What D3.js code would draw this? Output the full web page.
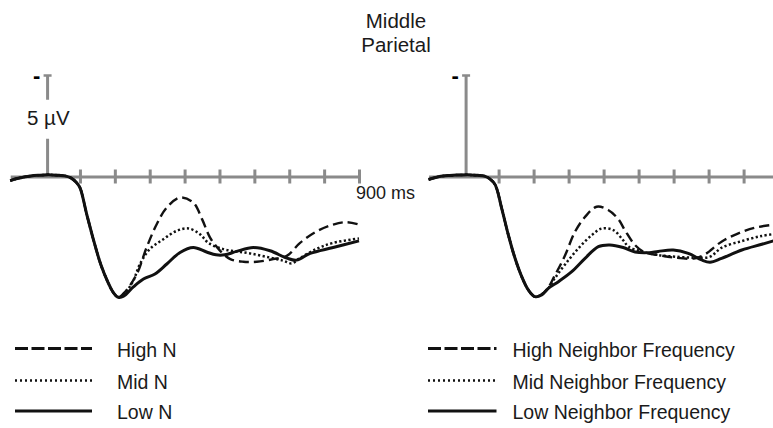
<!DOCTYPE html>
<html>
<head>
<meta charset="utf-8">
<script src="https://cdn.jsdelivr.net/npm/d3@7"></script>
<style>
  body { margin: 0; background: #ffffff; }
  svg { display: block; }
  text { font-family: "Liberation Sans", Arial, Helvetica, sans-serif; fill: #1a1a1a; }
</style>
</head>
<body>
<svg id="chart" width="773" height="428"></svg>
<script>
// ---- Data: grand-average ERP waveforms (time in ms, amplitude in µV, negative plotted up) ----

const titleLines = ["Middle", "Parietal"];
const timeTicks = [100, 200, 300, 400, 500, 600, 700, 800, 900];
const timeLabel = "900 ms";
const scaleLabel = "5 µV";

// Neighborhood size panel
const leftBaseline = [[-100, 0.2], [-80, 0.1], [-60, 0.02], [-40, -0.03], [-20, -0.06], [0, -0.08], [20, -0.08],
  [40, -0.06], [60, -0.02], [75, 0.08], [90, 0.3], [100, 0.55], [120, 1.9], [140, 3.2], [160, 4.35],
  [180, 5.2], [195, 5.7], [210, 5.95]];
const leftHighN = [[229, 5.69], [263, 4.8], [291, 3.5], [320, 2.35], [349, 1.53], [387, 1.04], [425, 1.29],
  [450, 2.1], [473, 3.01], [502, 3.66], [531, 4.07], [568, 4.2], [607, 4.2], [654, 4.07], [693, 3.91],
  [731, 3.27], [779, 2.7], [826, 2.37], [865, 2.25], [900, 2.37]];
const leftMidN = [[234, 5.62], [253, 5.13], [272, 4.31], [300, 3.58], [339, 3.09], [377, 2.68], [411, 2.56],
  [444, 2.84], [468, 3.27], [511, 3.58], [549, 3.69], [588, 3.79], [636, 3.96], [683, 4.15], [707, 4.28],
  [731, 4.02], [779, 3.56], [826, 3.27], [900, 3.05]];
const leftLowN = [[225, 5.9], [253, 5.44], [282, 5.05], [315, 4.8], [349, 4.31], [387, 3.74], [425, 3.5],
  [463, 3.72], [490, 3.86], [515, 3.86], [549, 3.69], [597, 3.5], [645, 3.66], [693, 4.02], [721, 4.12],
  [760, 3.79], [826, 3.5], [900, 3.17]];
const leftLabels = ["High N", "Mid N", "Low N"];

// Neighbor frequency panel
const rightBaseline = [[-100, 0.15], [-80, 0.05], [-60, -0.02], [-40, -0.05], [-20, -0.07], [0, -0.08], [20, -0.08],
  [40, -0.06], [60, -0.02], [75, 0.12], [90, 0.4], [109, 1.58], [128, 2.89], [147, 4.03], [166, 4.93],
  [185, 5.59], [204, 5.92]];
const rightHighNF = [[233, 5.67], [261, 4.86], [290, 3.88], [318, 2.73], [347, 1.99], [380, 1.49], [413, 1.65],
  [442, 2.1], [461, 2.65], [490, 3.38], [518, 3.74], [556, 3.87], [604, 4.0], [661, 4.03], [690, 3.83],
  [737, 3.21], [785, 2.8], [833, 2.52], [880, 2.39], [900, 2.36]];
const rightMidNF = [[237, 5.6], [261, 5.0], [290, 4.33], [328, 3.54], [366, 2.89], [395, 2.56], [428, 2.64],
  [456, 3.14], [471, 3.45], [509, 3.7], [556, 3.87], [604, 3.95], [661, 4.0], [704, 3.95], [737, 3.51],
  [795, 3.18], [852, 2.93], [900, 2.8]];
const rightLowNF = [[223, 5.84], [242, 5.51], [271, 5.18], [309, 4.69], [347, 4.03], [385, 3.45], [418, 3.37],
  [456, 3.5], [490, 3.72], [530, 3.75], [556, 3.69], [599, 3.62], [642, 3.79], [680, 4.11], [704, 4.22],
  [737, 4.03], [795, 3.62], [852, 3.34], [900, 3.1]];
const rightLabels = ["High Neighbor Frequency", "Mid Neighbor Frequency", "Low Neighbor Frequency"];

// ---- Drawing ----
const svg = d3.select("#chart");
const axisGray = "#8a8a8a";
const ink = "#111111";

// line styles shared by waveforms and legend keys: high = dashed, mid = dotted, low = solid
const waveStyles = [
  { width: 2.4, dash: "10,5" },
  { width: 2.5, dash: "2.2,2.4" },
  { width: 3.0, dash: null }
];
const keyStyles = [
  { width: 2.8, dash: "13,3.5" },
  { width: 2.3, dash: "2,3" },
  { width: 3.2, dash: null }
];

// amplitude scale: negative voltages up, positive down
const y = d3.scaleLinear().domain([-5, 0]).range([75, 176.5]);

const panels = [
  {
    range: [10.2, 359], series: [leftHighN, leftMidN, leftLowN], baseline: leftBaseline,
    labels: leftLabels, scaleText: true, timeText: true,
    keyX: [15, 92], keyTextX: 117
  },
  {
    range: [428.6, 778.6], series: [rightHighNF, rightMidNF, rightLowNF], baseline: rightBaseline,
    labels: rightLabels, scaleText: false, timeText: false,
    keyX: [428, 496.5], keyTextX: 512.5
  }
];

const keyRowsY = [348.5, 380.5, 411];
const keyTextY = [356.7, 388.8, 419.3];

// title
svg.append("g").selectAll("text").data(titleLines).join("text")
  .attr("x", 396).attr("y", (d, i) => 28 + i * 24)
  .attr("text-anchor", "middle").attr("font-size", 20.5)
  .text(d => d);

panels.forEach(p => {
  const x = d3.scaleLinear().domain([-100, 900]).range(p.range);
  const g = svg.append("g");

  // time axis with ticks crossing the zero line
  g.append("g")
    .attr("transform", `translate(0,${y(0)})`)
    .call(d3.axisBottom(x).tickValues(timeTicks).tickSizeOuter(0).tickFormat(""))
    .call(a => a.select(".domain").attr("stroke", axisGray).attr("stroke-width", 3))
    .call(a => a.selectAll(".tick line").attr("y1", -7).attr("y2", 7)
      .attr("stroke", axisGray).attr("stroke-width", 3));

  // amplitude scale bar (5 µV, negative up)
  const ax = x(0) + 2.5;
  const top = y(-5), zero = y(0);
  const segments = p.scaleText ? [[top, y(-2.5) - 26], [y(-2.5) + 13, zero]] : [[top, zero]];
  g.selectAll("line.vbar").data(segments).join("line").attr("class", "vbar")
    .attr("x1", ax).attr("x2", ax).attr("y1", d => d[0]).attr("y2", d => d[1])
    .attr("stroke", axisGray).attr("stroke-width", 3);
  g.append("line")
    .attr("x1", ax - 4).attr("x2", ax + 4).attr("y1", top + 0.5).attr("y2", top + 0.5)
    .attr("stroke", axisGray).attr("stroke-width", 2.5);
  g.append("text")
    .attr("x", ax - 11).attr("y", top + 8.4)
    .attr("text-anchor", "middle").attr("font-size", 22).attr("font-weight", "bold")
    .style("fill", "#000").text("-");
  if (p.scaleText) {
    g.append("text").attr("x", 27).attr("y", y(-2.5) - 0.5)
      .attr("font-size", 20.5).text(scaleLabel);
  }
  if (p.timeText) {
    g.append("text").attr("x", x(900) - 3).attr("y", 199)
      .attr("font-size", 18).text(timeLabel);
  }

  // waveforms: shared early portion followed by each condition's own course
  const line = d3.line()
    .x(d => x(d[0])).y(d => y(d[1]))
    .curve(d3.curveCatmullRom.alpha(0.5));
  p.series.forEach((s, i) => {
    const pts = p.baseline.concat(s);
    const st = waveStyles[i];
    g.append("path")
      .attr("d", line(pts))
      .attr("fill", "none").attr("stroke", ink)
      .attr("stroke-width", st.width)
      .attr("stroke-dasharray", st.dash)
      .attr("stroke-linejoin", "round");
  });

  // legend
  const lg = g.append("g");
  p.labels.forEach((lab, i) => {
    const st = keyStyles[i];
    lg.append("line")
      .attr("x1", p.keyX[0]).attr("x2", p.keyX[1])
      .attr("y1", keyRowsY[i]).attr("y2", keyRowsY[i])
      .attr("stroke", ink).attr("stroke-width", st.width)
      .attr("stroke-dasharray", st.dash);
    lg.append("text")
      .attr("x", p.keyTextX).attr("y", keyTextY[i])
      .attr("font-size", 19.5).text(lab);
  });
});
</script>
</body>
</html>
